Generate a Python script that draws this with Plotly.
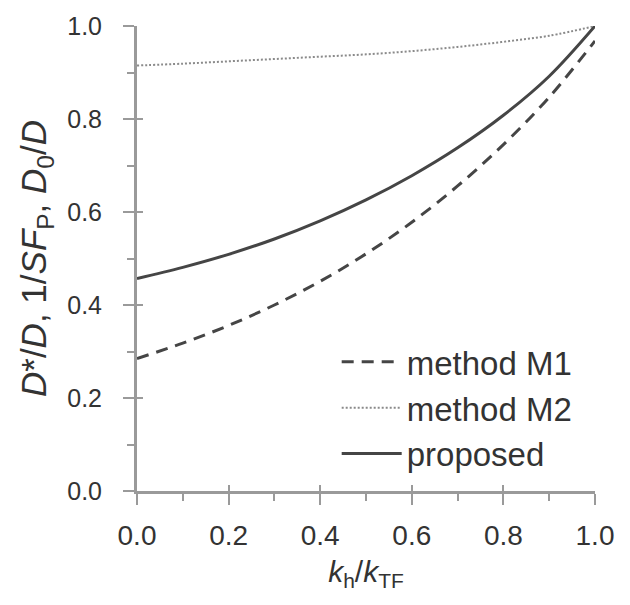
import plotly.graph_objects as go

# data
k_ratio = [0.0, 0.1, 0.2, 0.3, 0.4, 0.5, 0.6, 0.7, 0.8, 0.9, 1.0]
method_m1 = [0.285, 0.318, 0.356, 0.400, 0.451, 0.510, 0.578, 0.656, 0.745, 0.847, 0.968]
method_m2 = [0.915, 0.919, 0.924, 0.929, 0.934, 0.939, 0.946, 0.955, 0.966, 0.979, 1.0]
proposed = [0.457, 0.481, 0.509, 0.542, 0.581, 0.626, 0.678, 0.738, 0.808, 0.892, 1.0]

tick_vals = [0.0, 0.2, 0.4, 0.6, 0.8, 1.0]
tick_text = ["0.0", "0.2", "0.4", "0.6", "0.8", "1.0"]

FONT = "Liberation Sans, Arial, sans-serif"
TXT = "#333333"
AX = "#9a9a9a"

fig = go.Figure()
fig.add_trace(go.Scatter(x=k_ratio, y=method_m1, mode="lines", name="method M1",
                         line=dict(color="#454545", width=3, dash="12px,8px", shape="spline")))
fig.add_trace(go.Scatter(x=k_ratio, y=method_m2, mode="lines", name="method M2",
                         line=dict(color="#8a8a8a", width=2, dash="2px,2px", shape="spline")))
fig.add_trace(go.Scatter(x=k_ratio, y=proposed, mode="lines", name="proposed",
                         line=dict(color="#454545", width=3, shape="spline")))
# invisible trace to realise the overlay axes (inner half of major ticks)
fig.add_trace(go.Scatter(x=k_ratio, y=proposed, xaxis="x2", yaxis="y2", mode="lines",
                         line=dict(width=0), opacity=0, showlegend=False, hoverinfo="skip"))


def axis_common(size, standoff):
    return dict(range=[0, 1], tickvals=tick_vals, ticktext=tick_text,
                showgrid=False, zeroline=False, showline=True, linecolor=AX, linewidth=3,
                ticks="outside", ticklen=11, tickwidth=2, tickcolor=AX,
                ticklabelstandoff=standoff,
                tickfont=dict(family=FONT, size=size, color=TXT),
                minor=dict(dtick=0.1, ticks="outside", ticklen=7, tickwidth=1.5, tickcolor=AX))


fig.update_layout(
    width=630, height=605,
    margin=dict(l=137, r=35, t=24, b=114),
    paper_bgcolor="white", plot_bgcolor="white",
    showlegend=True,
    legend=dict(x=0.436, y=0.338, xanchor="left", yanchor="top",
                bgcolor="rgba(0,0,0,0)", font=dict(family=FONT, size=33, color=TXT),
                itemwidth=60, tracegroupgap=0),
    xaxis=dict(**axis_common(28, 6),
               title=dict(text="<i>k</i><sub>h</sub>/<i>k</i><sub>TF</sub>",
                          font=dict(family=FONT, size=30, color=TXT), standoff=12)),
    yaxis=dict(**axis_common(25, 16),
               title=dict(text="<i>D</i>*/<i>D</i>, 1/<i>SF</i><sub>P</sub>, <i>D</i><sub>0</sub>/<i>D</i>",
                          font=dict(family=FONT, size=35, color=TXT), standoff=10)),
    xaxis2=dict(overlaying="x", anchor="y2", range=[0, 1], tickvals=tick_vals,
                showticklabels=False, showgrid=False, zeroline=False, showline=False,
                ticks="inside", ticklen=6, tickwidth=2, tickcolor=AX),
    yaxis2=dict(overlaying="y", anchor="x2", range=[0, 1], tickvals=tick_vals,
                showticklabels=False, showgrid=False, zeroline=False, showline=False,
                ticks="inside", ticklen=6, tickwidth=2, tickcolor=AX),
)

fig.write_html("out.html")
